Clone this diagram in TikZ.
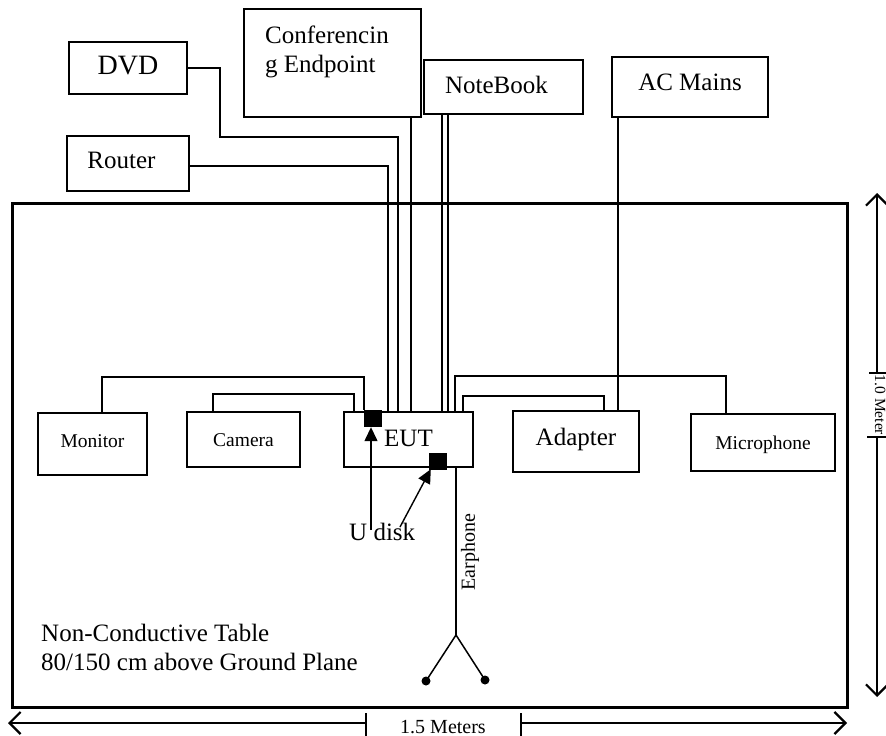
\documentclass[tikz,border=0pt]{standalone}
\usepackage{fontspec}
\setmainfont{Liberation Serif}
\usetikzlibrary{arrows.meta}
\begin{document}
\begin{tikzpicture}[x=1pt,y=-1pt,
  boxst/.style={draw, line width=1.8pt, inner sep=0pt, outer sep=0pt, anchor=north west},
  sqst/.style={fill=black, draw=none, inner sep=0pt, minimum width=18pt, minimum height=17pt},
  dotst/.style={circle, fill=black, inner sep=0pt, minimum size=9pt},
  wire/.style={line width=1.5pt},
  uarr/.style={line width=1.4pt, -{Triangle[length=14pt,width=13pt]}},
  dimst/.style={line width=1.2pt},
  dimarr/.style={line width=1.2pt, -{Straight Barb[length=11pt,width=22pt,line width=2.2pt]}},
  lbig/.style={font=\fontsize{25}{29}\selectfont, inner sep=0pt, anchor=base},
  lsmall/.style={font=\fontsize{19.5}{22}\selectfont, inner sep=0pt, anchor=base},
]
\useasboundingbox (0,0) rectangle (886,736);
% table
\node[boxst, line width=3pt, minimum width=835pt, minimum height=504pt] (table) at (12,203) {};
% top boxes
\node[boxst, minimum width=118pt, minimum height=52pt] (dvd) at (69,42) {};
\node[boxst, minimum width=177pt, minimum height=108pt] (conf) at (244,9) {};
\node[boxst, minimum width=159pt, minimum height=54pt] (nb) at (424,60) {};
\node[boxst, minimum width=156pt, minimum height=60pt] (ac) at (612,57) {};
\node[boxst, minimum width=122pt, minimum height=55pt] (router) at (67,136) {};
% table boxes
\node[boxst, minimum width=109pt, minimum height=62pt] (monitor) at (38,413) {};
\node[boxst, minimum width=113pt, minimum height=55pt] (camera) at (187,412) {};
\node[boxst, minimum width=129pt, minimum height=55pt] (eut) at (344,412) {};
\node[boxst, minimum width=126pt, minimum height=61pt] (adapter) at (513,411) {};
\node[boxst, minimum width=144pt, minimum height=57pt] (mic) at (691,414) {};
% labels
\node[lbig, font=\fontsize{28}{32}\selectfont] (dvdt) at (128,74) {DVD};
\node[lbig, anchor=base west] (conft1) at (265,43) {Conferencin};
\node[lbig, anchor=base west] (conft2) at (265,72) {g Endpoint};
\node[lbig] (nbt) at (496.5,93) {NoteBook};
\node[lbig] (act) at (690,90) {AC Mains};
\node[lbig] (routert) at (121.5,168) {Router};
\node[lsmall] (monitort) at (92.5,447) {Monitor};
\node[lsmall] (camerat) at (243.5,446) {Camera};
\node[lbig] (eutt) at (408.5,446) {EUT};
\node[lbig] (adaptert) at (576,445) {Adapter};
\node[lsmall] (mict) at (763,449) {Microphone};
\node[lbig, anchor=base west] (udiskt) at (349,540) {U disk};
\node[inner sep=0pt, rotate=90, font=\fontsize{20}{22}\selectfont] (eart) at (470,552) {Earphone};
\node[lbig, anchor=base west] (tablet1) at (41,641) {Non-Conductive Table};
\node[lbig, anchor=base west] (tablet2) at (41,670) {80/150 cm above Ground Plane};
% ports
\node[sqst] (sq1) at (373,418.5) {};
\node[sqst] (sq2) at (438,461.5) {};
% cables
\draw[wire] (dvd.east) -| (220,137) -| ([xshift=-10.5pt]eut.north);
\draw[wire] ([yshift=-2.5pt]router.east) -| ([xshift=-20.5pt]eut.north);
\draw[wire] ([xshift=78.5pt]conf.south) -- ([xshift=2.5pt]eut.north);
\draw[wire] ([xshift=-61.5pt]nb.south) -- ([xshift=33.5pt]eut.north);
\draw[wire] ([xshift=-55.5pt]nb.south) -- ([xshift=39.5pt]eut.north);
\draw[wire] ([xshift=9.5pt]monitor.north) -- ++(0,-36) -| ([xshift=-9pt]sq1.north);
\draw[wire] ([xshift=-30.5pt]camera.north) -- ++(0,-18) -| ([xshift=-54.5pt]eut.north);
\draw[wire] ([xshift=46.5pt]eut.north) -- ++(0,-36) -| ([xshift=-37pt]mic.north);
\draw[wire] ([xshift=54.5pt]eut.north) -- ++(0,-16) -| ([xshift=28pt]adapter.north);
\draw[wire] ([xshift=-72pt]ac.south) -- ([xshift=42pt]adapter.north);
% earphone
\coordinate (jn) at (456,635);
\node[dotst] (d1) at (426,681) {};
\node[dotst] (d2) at (485,680) {};
\draw[wire] ([xshift=47.5pt]eut.south) -- (jn);
\draw[wire] (jn) -- (d1.center);
\draw[wire] (jn) -- (d2.center);
% U disk arrows
\coordinate (u1) at (371,530);
\coordinate (u2) at (400,527);
\draw[uarr] (u1) -- ([xshift=-2pt]sq1.south);
\draw[uarr] (u2) -- ([xshift=2pt,yshift=1pt]sq2.south west);
% dimension: 1.0 Meter
\coordinate (rtop) at (877,193);
\coordinate (rt1) at (877,373);
\coordinate (rt2) at (877,437);
\coordinate (rbot) at (877,697);
\draw[dimarr] (rt1) -- (rtop);
\draw[dimarr] (rt2) -- (rbot);
\draw[dimst] (869,373) -- (886,373);
\draw[dimst] (867,437) -- (886,437);
\node[inner sep=0pt, rotate=-90, anchor=base, font=\fontsize{15.5}{18}\selectfont] (rdimt) at (875,405) {1.0 Meter};
% dimension: 1.5 Meters
\coordinate (bl) at (8,723);
\coordinate (bt1) at (366,723);
\coordinate (bt2) at (521,723);
\coordinate (br) at (847,723);
\draw[dimarr] (bt1) -- (bl);
\draw[dimarr] (bt2) -- (br);
\draw[dimst] (366,713) -- (366,736);
\draw[dimst] (521,713) -- (521,736);
\node[inner sep=0pt, anchor=base, font=\fontsize{20}{22}\selectfont] (bdimt) at (443,733) {1.5 Meters};
\end{tikzpicture}
\end{document}
